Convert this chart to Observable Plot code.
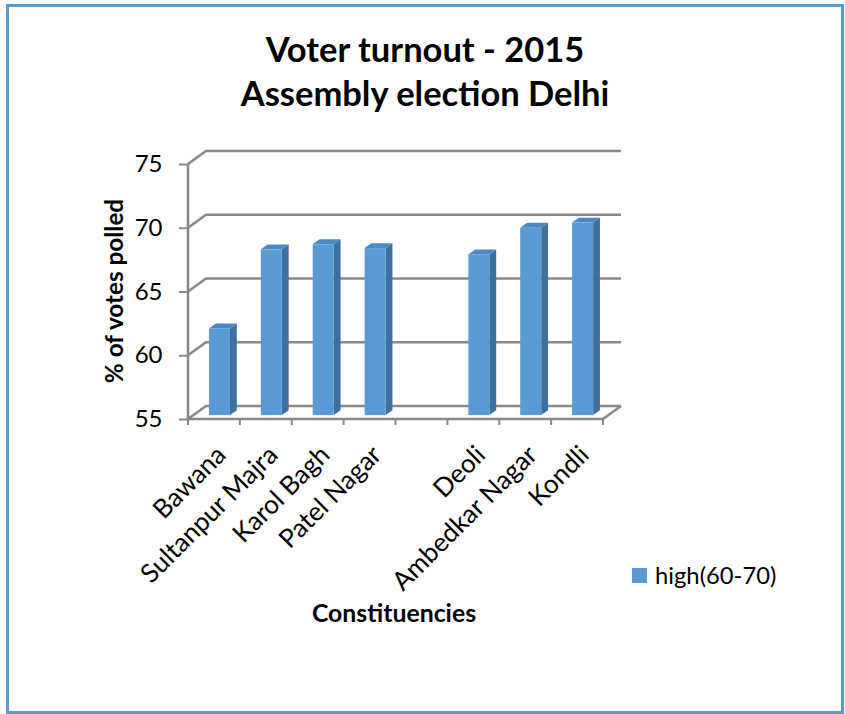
<!DOCTYPE html>
<html>
<head>
<meta charset="utf-8">
<script src="https://cdn.jsdelivr.net/npm/d3@7"></script>
<script src="https://cdn.jsdelivr.net/npm/@observablehq/plot@0.6"></script>
<style>
  body { margin: 0; background: #fff; font-family: Lato, "Open Sans", sans-serif; color: #000; }
  #page { position: relative; width: 845px; height: 714px; overflow: hidden; background: #fff; }
  #chart { position: absolute; left: 0; top: 0; }
  #frame { position: absolute; left: 6px; top: 4px; width: 838px; height: 710px; border: 3px solid #5b9bd5; box-sizing: border-box; pointer-events: none; }
  #title { position: absolute; left: 0; width: 850px; top: 27px; text-align: center; font-weight: 700; font-size: 34.5px; line-height: 44px; white-space: nowrap; }
  #ylabel { position: absolute; left: 113px; top: 291px; transform: translate(-50%, -50%) rotate(-90deg); font-weight: 700; font-size: 24.3px; white-space: nowrap; }
  #xlabel { position: absolute; left: 394px; top: 598px; transform: translateX(-50%); font-weight: 700; font-size: 24.8px; line-height: 30px; white-space: nowrap; }
  #legend { position: absolute; left: 632px; top: 562px; height: 26px; display: flex; align-items: center; font-size: 23.8px; white-space: nowrap; }
  #legend .sw { width: 15px; height: 15px; margin-right: 8px; }
</style>
</head>
<body>
<div id="page">
  <div id="chart"></div>
  <div id="title">Voter turnout - 2015<br>Assembly election Delhi</div>
  <div id="ylabel">% of votes polled</div>
  <div id="xlabel">Constituencies</div>
  <div id="legend"><span class="sw"></span><span class="lt"></span></div>
  <div id="frame"></div>
</div>
<script>
// Constituencies on the category axis (the empty slot is a gap in the series)
const categories = ["Bawana", "Sultanpur Majra", "Karol Bagh", "Patel Nagar", "", "Deoli", "Ambedkar Nagar", "Kondli"];
// Voter turnout, % of votes polled
const turnout = [61.8, 68.0, 68.4, 68.1, null, 67.6, 69.7, 70.1];
const yTicks = [55, 60, 65, 70, 75];
const seriesName = "high(60-70)";

const frontColor = "#5b9bd5";
const sideColor = "#3f6f9f";
const topColor = "#4a87c6";
const gridColor = "#8a8a8a";

// oblique projection of the depth axis (pixels for the full floor depth)
const DX = 18, DY = -13;
// bar placement within its slot: front face depth, bar depth, left offset, width
const F0 = 0.3, DEPTH = 0.38, BAR_LEFT = 0.3, BAR_W = 0.405;

const rows = categories
  .map((c, i) => ({constituency: c, turnout: turnout[i]}))
  .filter(d => d.constituency !== "" && d.turnout != null);

// back wall, side wall edges, floor and category ticks
function walls(index, scales, values, dims) {
  const {x, y} = scales;
  const x0 = dims.marginLeft, x1 = dims.width - dims.marginRight;
  const g = d3.create("svg:g")
    .attr("fill", "none").attr("stroke", gridColor)
    .attr("stroke-width", 2.6).attr("stroke-linejoin", "round");
  for (const t of yTicks) {
    const yy = y(t);
    g.append("path").attr("d", `M${x0},${yy}L${x0 + DX},${yy + DY}H${x1 + DX}`);
  }
  const yb = y(yTicks[0]);
  g.append("path").attr("d", `M${x0},${yb}H${x1}L${x1 + DX},${yb + DY}`);
  g.append("path").attr("d", `M${x0},${y(yTicks[yTicks.length - 1])}V${yb}`);
  for (const c of categories) g.append("path").attr("stroke-width", 2).attr("d", `M${x(c)},${yb}v6`);
  g.append("path").attr("stroke-width", 2).attr("d", `M${x1},${yb}v6`);
  return g.node();
}

// 3-D columns: side face, top face, front face
function columns(index, scales, values, dims) {
  const {x, y} = scales;
  const bw = x.bandwidth ? x.bandwidth() : x(categories[1]) - x(categories[0]);
  const g = d3.create("svg:g");
  const ddx = DEPTH * DX, ddy = DEPTH * DY;
  for (const d of rows) {
    const L = x(d.constituency) + BAR_LEFT * bw + F0 * DX;
    const w = BAR_W * bw;
    const yt = y(d.turnout) + F0 * DY;
    const yb = y(yTicks[0]) + F0 * DY;
    g.append("path").attr("fill", sideColor)
      .attr("d", `M${L + w},${yt}l${ddx},${ddy}V${yb + ddy}L${L + w},${yb}Z`);
    g.append("path").attr("fill", topColor)
      .attr("d", `M${L},${yt}l${ddx},${ddy}h${w}L${L + w},${yt}Z`);
    g.append("rect").attr("fill", frontColor)
      .attr("x", L).attr("y", yt).attr("width", w).attr("height", yb - yt);
  }
  return g.node();
}

const chart = Plot.plot({
  width: 845,
  height: 714,
  marginLeft: 188,
  marginRight: 242,
  marginTop: 164,
  marginBottom: 295,
  style: {fontFamily: "Lato, 'Open Sans', sans-serif", background: "transparent", color: "#000", overflow: "visible"},
  x: {type: "band", domain: categories, padding: 0, round: false, axis: null},
  y: {domain: [55, 75], axis: null},
  marks: [
    walls,
    Plot.axisY({ticks: yTicks, tickSize: 9, tickPadding: 17, stroke: gridColor, strokeWidth: 2, fontSize: 24, label: null, tickFormat: d => String(d)}),
    columns,
    Plot.text(rows, {
      x: "constituency", y: () => yTicks[0], text: "constituency",
      rotate: -45, textAnchor: "end", lineAnchor: "bottom",
      dx: 13, dy: 37, fontSize: 26, fill: "#000"
    })
  ]
});
document.getElementById("chart").appendChild(chart);

document.querySelector("#legend .sw").style.background = frontColor;
document.querySelector("#legend .lt").textContent = seriesName;
</script>
</body>
</html>
